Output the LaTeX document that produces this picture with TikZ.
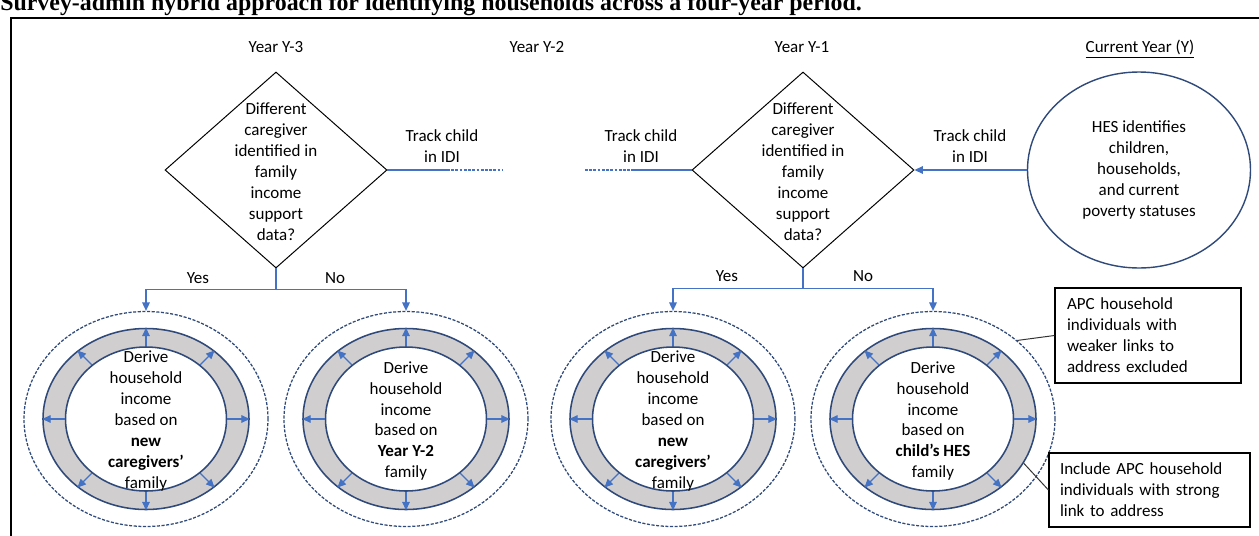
\documentclass[tikz,border=0pt]{standalone}
\usepackage{fontspec}
\setmainfont{Carlito}
\newfontfamily\titlefont{Liberation Serif}
\usepackage{tikz}
\usetikzlibrary{calc,shapes.geometric,arrows.meta}
\definecolor{flowblue}{HTML}{4472C4}
\definecolor{navy}{HTML}{2F4A7A}
\definecolor{ringgray}{HTML}{D0CECE}
\def\pxu{0.025cm}
\tikzset{
  txt/.style={font=\fontsize{12.1}{14.9}\selectfont, align=center, inner sep=0pt},
  decision/.style={diamond, draw=black, line width=0.7pt, inner sep=0pt,
    minimum width=222*\pxu, minimum height=196*\pxu},
  survey/.style={ellipse, draw=navy, line width=1pt, inner sep=0pt,
    minimum width=223*\pxu, minimum height=196*\pxu, txt},
  halo/.style={ellipse, draw=navy, line width=0.9pt, dash pattern=on 2.2pt off 1.1pt,
    minimum width=244*\pxu, minimum height=215*\pxu, inner sep=0pt},
  band/.style={ellipse, draw=navy, fill=ringgray, line width=1.1pt,
    minimum width=206*\pxu, minimum height=181*\pxu, inner sep=0pt},
  core/.style={ellipse, draw=navy, fill=white, line width=1.1pt,
    minimum width=161*\pxu, minimum height=144*\pxu, inner sep=0pt},
  flow/.style={draw=flowblue, line width=0.9pt},
  tip/.style={-{Triangle[length=6pt,width=5.4pt]}},
  spoke/.style={draw=flowblue, line width=0.8pt, -{Triangle[length=6pt,width=5.4pt]}},
  faint/.style={flow, dash pattern=on 2pt off 1pt},
  note/.style={draw=black, line width=0.8pt, align=left, inner sep=0pt,
    font=\fontsize{12.1}{14.9}\selectfont},
  callout/.style={draw=black!80, line width=0.7pt},
  frame/.style={draw=black, line width=1.1pt},
}
\begin{document}
\begin{tikzpicture}[x=0.025cm, y=-0.025cm]
  \useasboundingbox (0,0) rectangle (1259,535);
  % caption and frame
  \node[anchor=base west, inner sep=0pt,
    font=\titlefont\bfseries\fontsize{17}{19}\selectfont] (ttl) at (0,10)
    {Survey-admin hybrid approach for identifying households across a four-year period.};
  \draw[frame] (11,545) -- (11,18) -- (1270,18);

  % year headings
  \node[txt] (yA) at (276,47) {Year Y-3};
  \node[txt] (yB) at (537,47) {Year Y-2};
  \node[txt] (yC) at (802,47) {Year Y-1};
  \node[txt] (yD) at (1140,49) {\underline{Current Year (Y)}};

  % decisions and survey
  \node[decision] (dA) at (276,170) {};
  \node[decision] (dB) at (803,170) {};
  \node[txt] (qA) at (276,172) {Different\\caregiver\\identified in\\family\\income\\support\\data?};
  \node[txt] (qB) at (803,172) {Different\\caregiver\\identified in\\family\\income\\support\\data?};
  \node[survey] (hes) at (1139,170) {HES identifies\\children,\\households,\\and current\\poverty statuses};

  % tracking links
  \node[txt] (kA) at (442,146) {Track child\\in IDI};
  \node[txt] (kB) at (641,146) {Track child\\in IDI};
  \node[txt] (kC) at (970,146) {Track child\\in IDI};
  \coordinate (sA) at (447,170);
  \coordinate (eA) at (502,170);
  \coordinate (sB) at (633,170);
  \coordinate (eB) at (585,170);
  \draw[flow] (dA.east) -- (sA);
  \draw[faint] (sA) -- (eA);
  \draw[faint] (eB) -- (sB);
  \draw[flow] (sB) -- (dB.west);
  \draw[flow,tip] (hes.west) -- (dB.east);

  % household rings
  \foreach \n/\x in {A/146,B/406,C/673,D/933}{
    \node[halo] (o\n) at (\x,419) {};
    \node[band] (g\n) at (\x,419) {};
    \node[core] (i\n) at (\x,419) {};
    \foreach \a in {0,45,...,315}
      \draw[spoke] (i\n.\a) -- (g\n.\a);
  }
  \node[txt] (rA) at (146,421) {Derive\\household\\income\\based on\\\textbf{new}\\\textbf{caregivers'}\\family};
  \node[txt] (rB) at (406,421) {Derive\\household\\income\\based on\\\textbf{Year Y-2}\\family};
  \node[txt] (rC) at (673,421) {Derive\\household\\income\\based on\\\textbf{new}\\\textbf{caregivers'}\\family};
  \node[txt] (rD) at (933,421) {Derive\\household\\income\\based on\\\textbf{child's HES}\\family};

  % yes / no branches
  \coordinate (jA) at ($(dA.south)+(0,21)$);
  \coordinate (jB) at ($(dB.south)+(0,20)$);
  \draw[flow] (dA.south) -- (jA);
  \draw[flow,tip] (jA) -| (oA.north);
  \draw[flow,tip] (jA) -| (oB.north);
  \draw[flow] (dB.south) -- (jB);
  \draw[flow,tip] (jB) -| (oC.north);
  \draw[flow,tip] (jB) -| (oD.north);
  \node[txt] (yesA) at (198,278) {Yes};
  \node[txt] (noA) at (335,278) {No};
  \node[txt] (yesB) at (727,276) {Yes};
  \node[txt] (noB) at (863,276) {No};

  % notes
  \node[note, minimum width=186*\pxu, minimum height=95*\pxu, text width=162*\pxu] (nA)
    at (1148,335.5) {APC household\\individuals with\\weaker links to\\address excluded};
  \node[note, minimum width=201*\pxu, minimum height=74*\pxu, text width=179*\pxu] (nB)
    at (1149.5,490) {Include APC household\\individuals with strong\\link to address};
  \draw[callout] (nA.west) -- (oD.43);
  \draw[callout] (nB.west) -- (gD.-26);
\end{tikzpicture}
\end{document}
